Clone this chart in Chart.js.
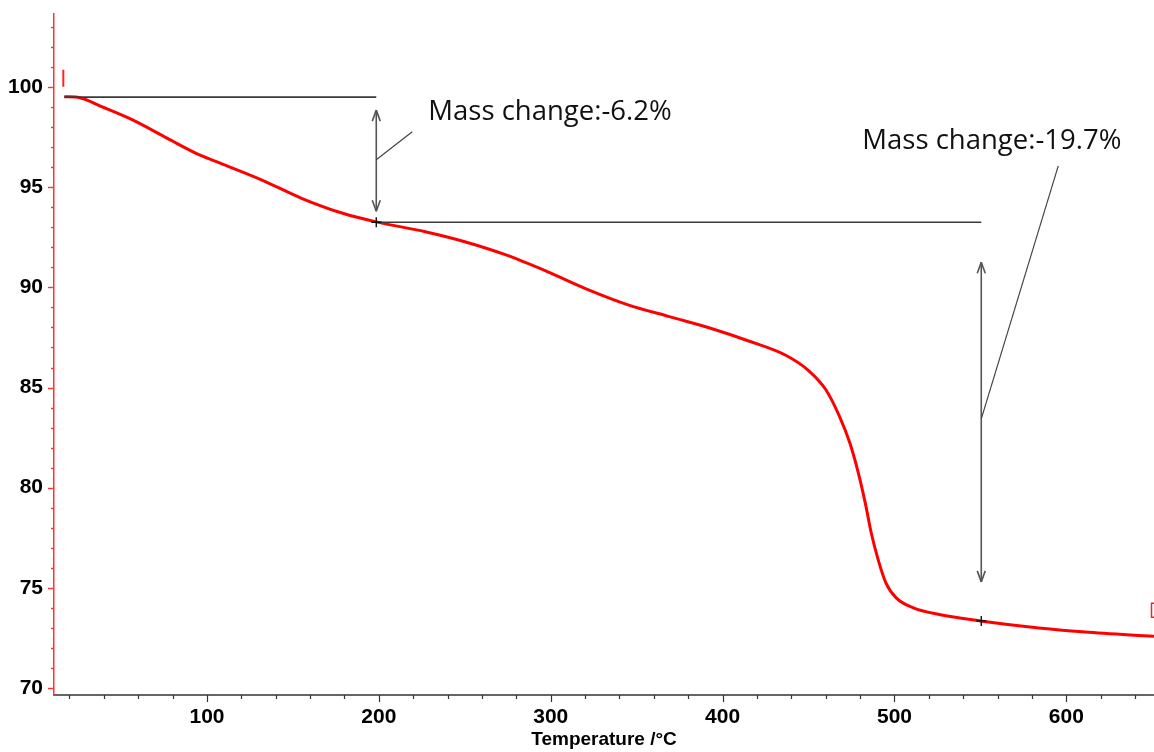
<!DOCTYPE html>
<html><head><meta charset="utf-8">
<script src="https://cdn.jsdelivr.net/npm/chart.js@4.4.1/dist/chart.umd.min.js"></script>
<style>html,body{margin:0;padding:0;background:#fff;overflow:hidden}#wrap{width:1154px;height:752px;position:relative}</style>
</head><body><div id="wrap"><canvas id="c" width="1154" height="752"></canvas></div>
<script>
// ---- data ----
const temperature = [17, 26, 38, 57, 77, 96, 108, 132, 155, 179, 198.5, 227, 250, 274, 298, 322, 345, 369, 393, 416, 437, 450, 460, 468, 474, 479, 483, 486.5, 490.5, 495, 501, 511, 526, 550, 584, 613, 642, 651];
const massPercent = [99.52, 99.47, 99.05, 98.35, 97.44, 96.6, 96.19, 95.36, 94.45, 93.7, 93.27, 92.78, 92.28, 91.62, 90.79, 89.88, 89.13, 88.54, 87.96, 87.3, 86.6, 85.85, 84.9, 83.56, 82.24, 80.73, 79.24, 77.74, 76.41, 75.25, 74.5, 74.0, 73.67, 73.35, 73.0, 72.78, 72.62, 72.58];
const xTickValues = [100, 200, 300, 400, 500, 600];
const yTickValues = [70, 75, 80, 85, 90, 95, 100];
const stepLabels = ['Mass change:-6.2%', 'Mass change:-19.7%'];
const stepTemps = [17, 198.5, 550.5];       // start, end of step 1, end of step 2
const stepLevels = [99.5, 93.25, 73.35];    // mass % at those temperatures

const tickFont = {family: "'Liberation Sans', Arial, sans-serif", size: 21, weight: 'bold'};

const deco = {
  id: 'deco',
  afterDatasetsDraw(chart) {
    const {ctx, chartArea: ca} = chart;
    const xs = chart.scales.x, ys = chart.scales.y;
    const X = v => xs.getPixelForValue(v), Y = v => ys.getPixelForValue(v);
    ctx.save();
    const line = (x1, y1, x2, y2) => { ctx.beginPath(); ctx.moveTo(x1, y1); ctx.lineTo(x2, y2); ctx.stroke(); };
    const head = (x, y, dir) => { // open V arrow head, dir=-1 up, 1 down
      line(x, y, x - 4, y - dir * 11); line(x, y, x + 4, y - dir * 11);
    };
    const plus = (x, y) => { line(x - 5, y, x + 5, y); line(x, y - 5, x, y + 5); };
    ctx.lineCap = 'butt';
    // level lines
    ctx.strokeStyle = '#3a3a3a'; ctx.lineWidth = 1.6;
    line(X(stepTemps[0]), Y(stepLevels[0]), X(stepTemps[1]), Y(stepLevels[0]));
    line(X(stepTemps[1]), Y(stepLevels[1]), X(stepTemps[2]), Y(stepLevels[1]));
    // arrows
    ctx.strokeStyle = '#555'; ctx.lineWidth = 1.6;
    const a1x = X(stepTemps[1]), a1t = Y(stepLevels[0]) + 13, a1b = Y(stepLevels[1]) - 11;
    line(a1x, a1t, a1x, a1b); head(a1x, a1t, -1); head(a1x, a1b, 1);
    const a2x = X(stepTemps[2]), a2t = Y(stepLevels[1]) + 40, a2b = Y(stepLevels[2]) - 39;
    line(a2x, a2t, a2x, a2b); head(a2x, a2t, -1); head(a2x, a2b, 1);
    // leader lines
    ctx.strokeStyle = '#444'; ctx.lineWidth = 1.2;
    const l1y = a1t + (a1b - a1t) * 0.49;
    line(a1x, l1y, a1x + 36, l1y - 28);
    const l2y = a2t + (a2b - a2t) * 0.49;
    line(a2x, l2y, a2x + 77, l2y - 253);
    // plus markers
    ctx.strokeStyle = '#111'; ctx.lineWidth = 1.4;
    plus(X(stepTemps[1]), Y(stepLevels[1]));
    plus(X(stepTemps[2]), Y(stepLevels[2]));
    // red start / end marks
    ctx.strokeStyle = '#ff2020'; ctx.lineWidth = 2;
    const sx = X(temperature[0]), sy = Y(massPercent[0]);
    line(sx - 1, sy - 27, sx - 1, sy - 10);
    const ex = ca.right - 2.5, ey = Y(massPercent[massPercent.length - 1]);
    ctx.lineWidth = 1.5;
    ctx.beginPath(); ctx.moveTo(ex + 3, ey - 33); ctx.lineTo(ex, ey - 33); ctx.lineTo(ex, ey - 19); ctx.lineTo(ex + 3, ey - 19); ctx.stroke();
    // texts
    ctx.fillStyle = '#111';
    ctx.font = "27.5px 'Open Sans', 'Noto Sans', sans-serif";
    ctx.textAlign = 'left'; ctx.textBaseline = 'alphabetic';
    ctx.fillText(stepLabels[0], a1x + 52, Y(stepLevels[0]) + 23);
    ctx.fillText(stepLabels[1], a2x - 119, Y(stepLevels[1]) - 73);
    ctx.restore();
  },
  afterDraw(chart) {
    const {ctx, chartArea: ca} = chart;
    const xs = chart.scales.x, ys = chart.scales.y;
    ctx.save();
    // y axis ticks (red)
    ctx.strokeStyle = 'rgb(255,50,50)'; ctx.lineWidth = 1.4;
    for (let v = Math.ceil(ys.min); v <= ys.max; v += 1) {
      const py = Math.round(ys.getPixelForValue(v)) + 0.5;
      const len = v % 5 === 0 ? 6 : 3;
      ctx.beginPath(); ctx.moveTo(ca.left - len, py); ctx.lineTo(ca.left, py); ctx.stroke();
    }
    // x axis ticks
    ctx.strokeStyle = '#333'; ctx.lineWidth = 1.2;
    for (let v = 20; v <= xs.max; v += 20) {
      const px = Math.round(xs.getPixelForValue(v)) + 0.5;
      const len = v % 100 === 0 ? 7 : 4;
      ctx.beginPath(); ctx.moveTo(px, ca.bottom); ctx.lineTo(px, ca.bottom + len); ctx.stroke();
    }
    ctx.restore();
  }
};

new Chart(document.getElementById('c'), {
  type: 'line',
  data: {
    datasets: [{
      data: temperature.map((t, i) => ({x: t, y: massPercent[i]})),
      borderColor: '#ff0000', borderWidth: 3, pointRadius: 0,
      cubicInterpolationMode: 'monotone', fill: false
    }]
  },
  options: {
    responsive: false, animation: false, devicePixelRatio: 1,
    layout: {padding: {top: 14, right: 0, left: 0, bottom: 0}},
    plugins: {legend: {display: false}, tooltip: {enabled: false}},
    scales: {
      x: {
        type: 'linear', min: 11, max: 651,
        afterBuildTicks: s => { s.ticks = xTickValues.map(v => ({value: v})); },
        afterFit: s => { s.height = 57; s.paddingLeft = 0; s.paddingRight = 0; },
        grid: {display: false, drawTicks: false},
        border: {display: true, color: '#666', width: 2},
        ticks: {font: tickFont, color: '#000', padding: 10, maxRotation: 0, autoSkip: false},
        title: {display: true, text: 'Temperature /°C', color: '#000', padding: {top: 0, bottom: 1},
          font: {family: tickFont.family, size: 19, weight: 'bold'}}
      },
      y: {
        type: 'linear', min: 69.65, max: 103.65,
        afterBuildTicks: s => { s.ticks = yTickValues.map(v => ({value: v})); },
        afterFit: s => { s.width = 54; s.paddingTop = 0; s.paddingBottom = 0; },
        grid: {display: false, drawTicks: false},
        border: {display: true, color: 'rgb(255,50,50)', width: 1.5},
        ticks: {font: tickFont, color: '#000', padding: 11, autoSkip: false}
      }
    }
  },
  plugins: [deco]
});
</script></body></html>
